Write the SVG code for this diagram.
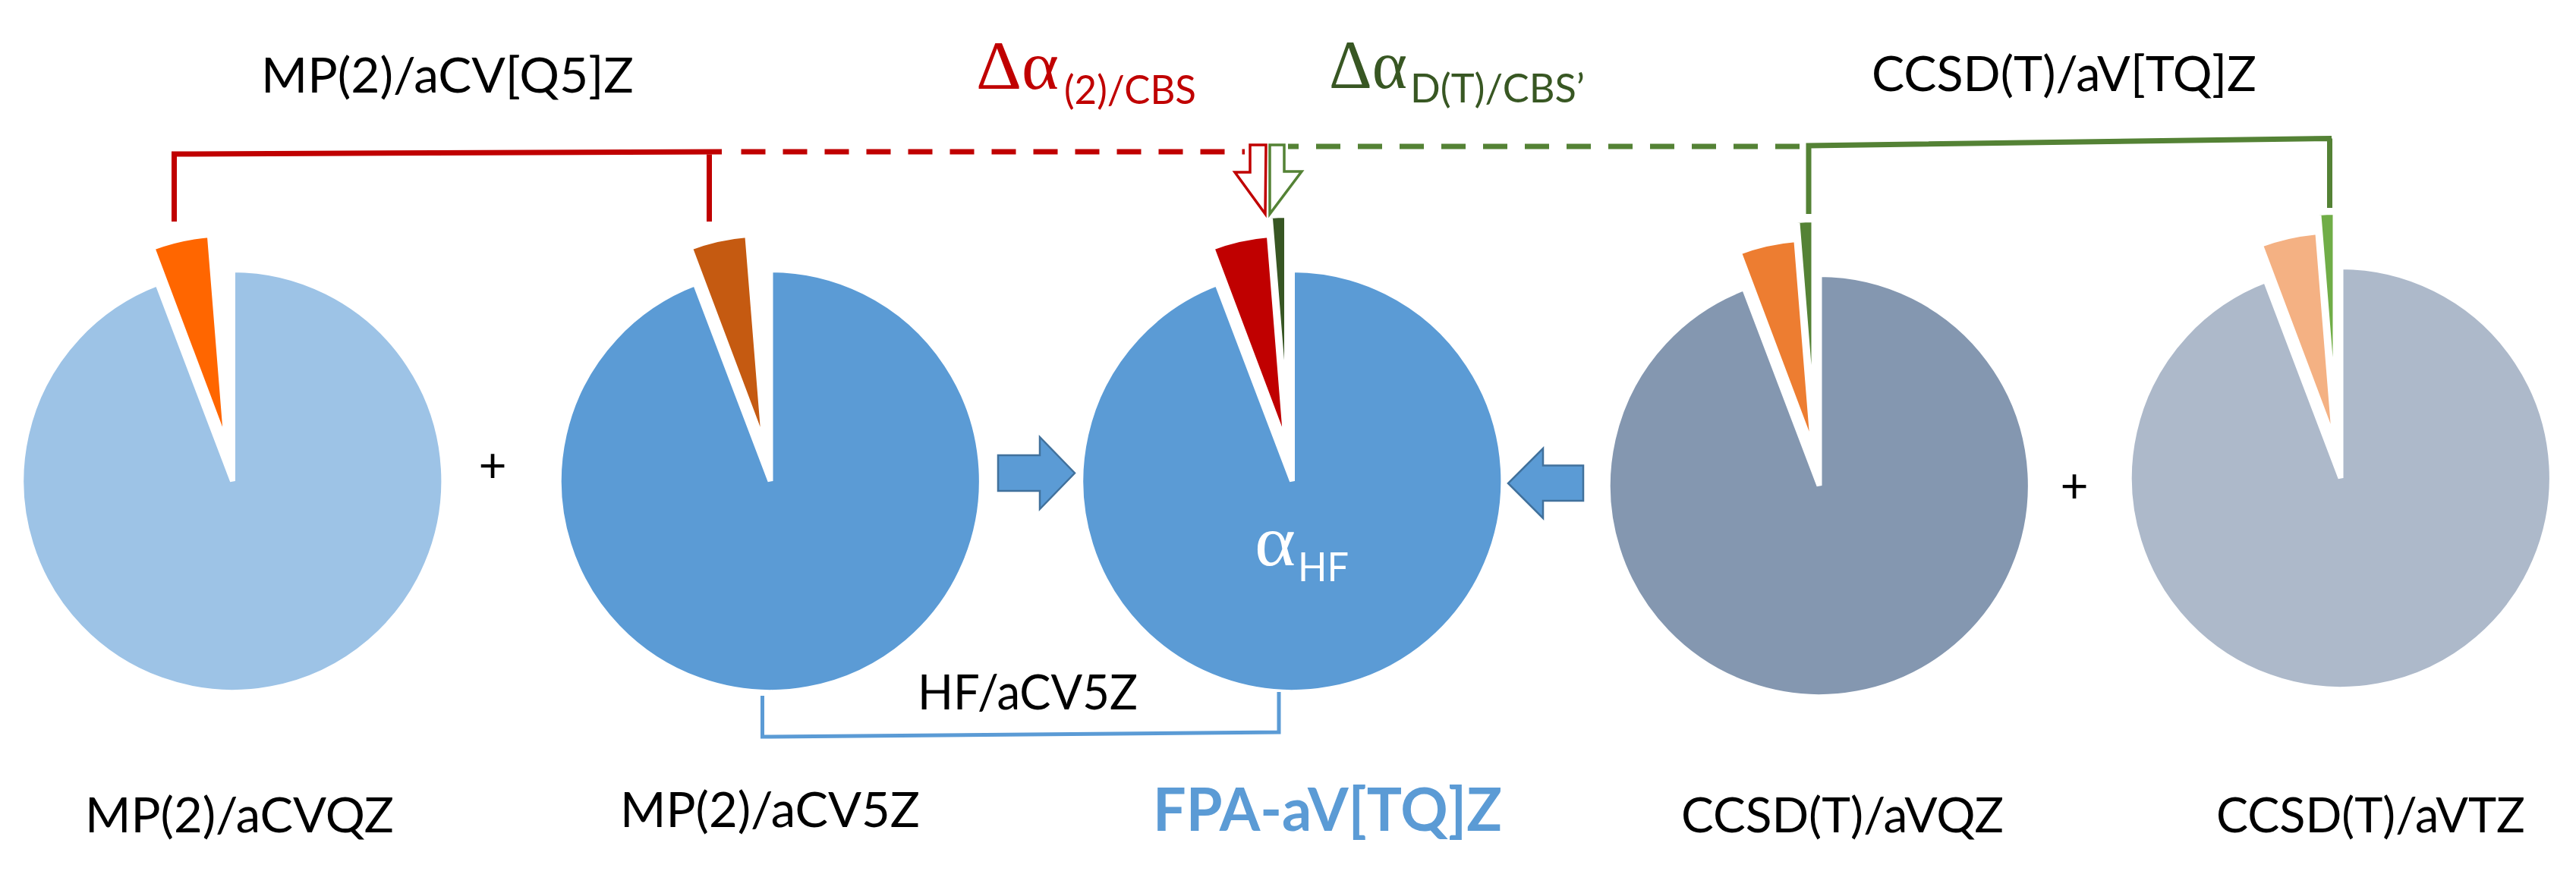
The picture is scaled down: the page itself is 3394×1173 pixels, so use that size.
<svg xmlns="http://www.w3.org/2000/svg" width="3394" height="1173" viewBox="0 0 3394 1173">
<style>
.s{stroke:#fff;stroke-width:7}
.lbl{font-family:Lato,"Liberation Sans",sans-serif;font-size:64px;fill:#000}
.gk{font-family:"Liberation Serif",serif;font-size:90px}
.sub{font-family:Lato,"Liberation Sans",sans-serif;font-size:52px}
.red{fill:#C00000}
.grn{fill:#385723}
.sol{fill:none;stroke-width:7}
.dash{fill:none;stroke-width:7;stroke-dasharray:32 23}
.harrow{fill:#fff;stroke-width:3.5;stroke-linejoin:miter}
.barrow{fill:#5B9BD5;stroke:#41719C;stroke-width:2.5}
</style>
<defs>
<path id="blue" d="M0 0 L0 -278.5 A278.5 278.5 0 1 1 -98.9 -260.4 Z"/>
<path id="orng" d="M-7.9 -46.8 L-105.9 -307.5 A278.5 278.5 0 0 1 -30.2 -324.4 Z"/>
<path id="grn" d="M-7 -72 L-29.3 -349.6 A278.5 278.5 0 0 1 -7 -350.5 Z"/>
</defs>
<rect width="3394" height="1173" fill="#fff"/>

<g id="pie1" transform="translate(306.5,634)">
<use href="#blue" class="s" fill="#9DC3E6"/>
<use href="#orng" class="s" fill="#FF6600"/>
</g>
<g id="pie2" transform="translate(1015,634)">
<use href="#blue" class="s" fill="#5B9BD5"/>
<use href="#orng" class="s" fill="#C55A11"/>
</g>
<g id="pie3" transform="translate(1702.5,634)">
<use href="#blue" class="s" fill="#5B9BD5"/>
<use href="#orng" class="s" fill="#C00000"/>
<use href="#grn" class="s" fill="#375623"/>
</g>
<g id="pie4" transform="translate(2397,640)">
<use href="#blue" class="s" fill="#8497B0"/>
<use href="#orng" class="s" fill="#ED7D31"/>
<use href="#grn" class="s" fill="#548235"/>
</g>
<g id="pie5" transform="translate(3084,630)">
<use href="#blue" class="s" fill="#ADB9CA"/>
<use href="#orng" class="s" fill="#F4B183"/>
<use href="#grn" class="s" fill="#70AD47"/>
</g>

<g id="connectors">
<path class="sol" stroke="#C00000" d="M229.5 292 V203 L951 200 M934.5 200 V292"/>
<path class="dash" stroke="#C00000" d="M976.5 200 H1640"/>
<path class="sol" stroke="#548235" d="M2383 282 V192 L3072 182.5 M3069.5 182.5 V274"/>
<path class="dash" stroke="#548235" d="M2371 193 H1697"/>
<polygon class="harrow" stroke="#C00000" points="1647,191 1668,191 1667,282 1627,227 1647,227"/>
<polygon class="harrow" stroke="#548235" points="1673,191 1692,191 1692,226 1715,226 1673,282"/>
<polygon class="barrow" points="1315,600 1370,600 1370,576 1416,623.5 1370,671 1370,647 1315,647"/>
<polygon class="barrow" points="2086,613.5 2033,613.5 2033,591 1987,637 2033,683 2033,660 2086,660"/>
<path class="sol" stroke="#5B9BD5" stroke-width="5" style="stroke-width:5" d="M1004.5 917 V971 L1685 965 V912"/>
</g>

<g id="labels">
<text class="lbl" x="344" y="122" textLength="491" lengthAdjust="spacingAndGlyphs">MP(2)/aCV[Q5]Z</text>
<text class="lbl" x="2466" y="120" textLength="507" lengthAdjust="spacingAndGlyphs">CCSD(T)/aV[TQ]Z</text>
<text class="lbl" x="1209" y="935" textLength="290" lengthAdjust="spacingAndGlyphs">HF/aCV5Z</text>
<text class="lbl" x="112" y="1097" textLength="407" lengthAdjust="spacingAndGlyphs">MP(2)/aCVQZ</text>
<text class="lbl" x="817" y="1090" textLength="395" lengthAdjust="spacingAndGlyphs">MP(2)/aCV5Z</text>
<text class="lbl" x="2215" y="1097" textLength="425" lengthAdjust="spacingAndGlyphs">CCSD(T)/aVQZ</text>
<text class="lbl" x="2920" y="1097" textLength="407" lengthAdjust="spacingAndGlyphs">CCSD(T)/aVTZ</text>
<text x="1519" y="1095" textLength="460" lengthAdjust="spacingAndGlyphs" style="font-family:Lato,'Liberation Sans',sans-serif;font-weight:bold;font-size:79px;fill:#5B9BD5">FPA-aV[TQ]Z</text>
<text class="lbl" x="649" y="636" text-anchor="middle">+</text>
<text class="lbl" x="2733" y="663" text-anchor="middle">+</text>
<g id="dalpha2">
<text class="gk red" x="1286" y="117" textLength="109" lengthAdjust="spacingAndGlyphs">Δα</text>
<text class="sub red" x="1402" y="137" textLength="174" lengthAdjust="spacingAndGlyphs">(2)/CBS</text>
</g>
<g id="dalphaT">
<text class="gk grn" x="1751" y="116" textLength="103" lengthAdjust="spacingAndGlyphs">Δα</text>
<text class="sub grn" x="1858" y="135" textLength="230" lengthAdjust="spacingAndGlyphs">D(T)/CBS’</text>
</g>
<g id="alphaHF">
<text class="gk" x="1653" y="745" textLength="54" lengthAdjust="spacingAndGlyphs" style="font-size:95px;fill:#fff">α</text>
<text class="sub" x="1710" y="766" textLength="67" lengthAdjust="spacingAndGlyphs" style="fill:#fff">HF</text>
</g>
</g>
</svg>
